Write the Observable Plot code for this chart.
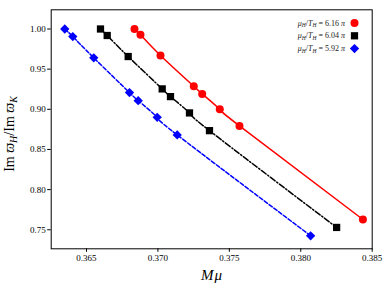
<!DOCTYPE html>
<html><head><meta charset="utf-8">
<script src="https://cdn.jsdelivr.net/npm/d3@7"></script>
<script src="https://cdn.jsdelivr.net/npm/@observablehq/plot@0.6"></script>
<style>
body{margin:0;background:#fff}
svg, svg text{font-family:"Liberation Serif","DejaVu Serif",serif !important}
</style>
</head><body><div id="chart"></div>
<script>
// Series labels (mu_H/T_H in units of pi)
const seriesLabels = ["6.16", "6.04", "5.92"];
// Red series (6.16 pi)
const xRed = [0.36836, 0.36878, 0.37018, 0.37251, 0.37310, 0.37433, 0.37571, 0.38435];
const yRed = [1.0000, 0.9928, 0.9670, 0.9287, 0.9192, 0.9000, 0.8793, 0.7628];
// Black series (6.04 pi)
const xBlack = [0.36598, 0.36645, 0.36792, 0.37030, 0.37088, 0.37221, 0.37361, 0.38251];
const yBlack = [1.0000, 0.9919, 0.9657, 0.9254, 0.9158, 0.8955, 0.8734, 0.7529];
// Blue series (5.92 pi)
const xBlue = [0.36348, 0.36404, 0.36551, 0.36801, 0.36862, 0.36995, 0.37135, 0.38069];
const yBlue = [1.0000, 0.9906, 0.9641, 0.9208, 0.9108, 0.8900, 0.8681, 0.7425];
// Tick values
const xTicks = [0.365, 0.370, 0.375, 0.380, 0.385];
const yTicks = [0.75, 0.80, 0.85, 0.90, 0.95, 1.00];

const toRows = (xs, ys) => xs.map((x, i) => ({x, y: ys[i]}));
const red = toRows(xRed, yRed), black = toRows(xBlack, yBlack), blue = toRows(xBlue, yBlue);

const plot = Plot.plot({
  width: 390, height: 288,
  marginLeft: 50.7, marginRight: 18.3, marginTop: 9.3, marginBottom: 39.7,
  style: {fontFamily: "Liberation Serif", fontSize: "9px", color: "black", background: "white"},
  x: {domain: [0.36253, 0.385]},
  y: {domain: [0.7263, 1.0239]},
  marks: [
    Plot.axisX({ticks: xTicks, tickFormat: d3.format(".3f"), tickSize: 3.5, tickPadding: 2.5, label: null, fontSize: 9}),
    Plot.axisY({ticks: yTicks, tickFormat: d3.format(".2f"), tickSize: 3.5, tickPadding: 2, label: null, fontSize: 9}),
    Plot.line(blue, {x: "x", y: "y", stroke: "#0000ff", strokeWidth: 1.5, strokeDasharray: "4,2", curve: "natural"}),
    Plot.line(black, {x: "x", y: "y", stroke: "black", strokeWidth: 1.5, strokeDasharray: "6,2,1.3,2", curve: "natural"}),
    Plot.line(red, {x: "x", y: "y", stroke: "#ff0000", strokeWidth: 1.5, curve: "natural"}),
    Plot.dot(blue, {x: "x", y: "y", symbol: "diamond2", r: 4.2, fill: "#0000ff", stroke: "none"}),
    Plot.dot(black, {x: "x", y: "y", symbol: "square", r: 4.1, fill: "black", stroke: "none"}),
    Plot.dot(red, {x: "x", y: "y", symbol: "circle", r: 4, fill: "#ff0000", stroke: "none"}),
    Plot.frame({stroke: "black", strokeWidth: 1})
  ]
});
document.getElementById("chart").appendChild(plot);

const svg = d3.select(plot);
// y label
const yl = svg.append("text")
  .attr("transform", "translate(14,134) rotate(-90)")
  .attr("text-anchor", "middle").attr("font-size", 14).attr("fill", "black");
yl.append("tspan").text("Im ");
yl.append("tspan").attr("font-style", "italic").text("ϖ");
yl.append("tspan").attr("font-style", "italic").attr("font-size", 10).attr("dy", 3).text("H");
yl.append("tspan").attr("dy", -3).text("/Im ");
yl.append("tspan").attr("font-style", "italic").text("ϖ");
yl.append("tspan").attr("font-style", "italic").attr("font-size", 10).attr("dy", 3).text("K");

// x label
svg.append("text").attr("x", 212).attr("y", 280).attr("text-anchor", "middle")
  .attr("font-size", 15).attr("font-style", "italic").attr("letter-spacing", 1).attr("fill", "black").text("Mμ");

// legend
const legendColors = ["#ff0000", "black", "#0000ff"];
const legendSymbols = [d3.symbolCircle, d3.symbolSquare, d3.symbolDiamond2];
const legendSizes = [Math.PI * 4 * 4, Math.PI * 4.1 * 4.1, Math.PI * 4.2 * 4.2];
seriesLabels.forEach((lab, i) => {
  const yy = 23 + i * 12.8;
  const t = svg.append("text").attr("x", 345).attr("y", yy + 2.6)
    .attr("text-anchor", "end").attr("font-size", 8).attr("fill", "#222");
  t.append("tspan").attr("font-style", "italic").text("μ");
  t.append("tspan").attr("font-style", "italic").attr("font-size", 5.5).attr("dy", 1.5).text("H");
  t.append("tspan").attr("dy", -1.5).text("/");
  t.append("tspan").attr("font-style", "italic").text("T");
  t.append("tspan").attr("font-style", "italic").attr("font-size", 5.5).attr("dy", 1.5).text("H");
  t.append("tspan").attr("dy", -1.5).text(" = " + lab + " ");
  t.append("tspan").attr("font-style", "italic").text("π");
  svg.append("path").attr("transform", `translate(354.5,${yy})`)
    .attr("d", d3.symbol(legendSymbols[i], legendSizes[i])())
    .attr("fill", legendColors[i]);
});
</script>
</body></html>
